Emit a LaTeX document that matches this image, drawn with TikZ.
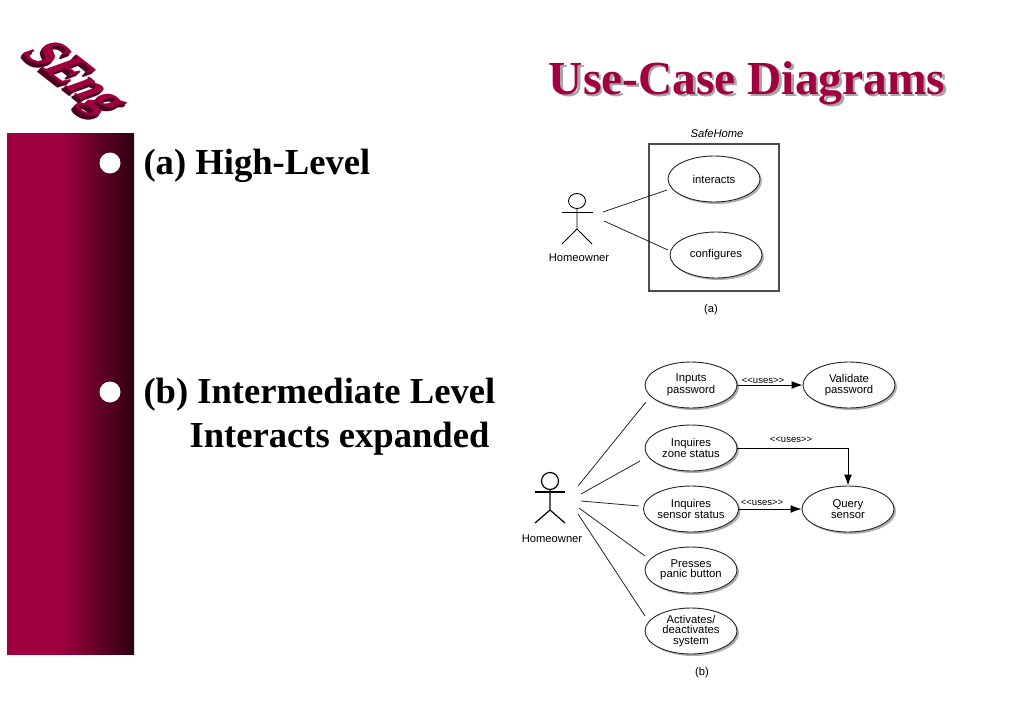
\documentclass[tikz,border=0pt]{standalone}
\usepackage{fontspec}
\usetikzlibrary{arrows.meta,shapes.geometric,shadows}
\setmainfont{Liberation Serif}
\newfontfamily\diagfont{Liberation Sans}
\definecolor{crimson}{HTML}{A00040}
\definecolor{darkcrimson}{HTML}{2C0010}
\tikzset{
  usecase/.style={draw,black!85,text=black,ellipse,line width=.9,fill=white,minimum width=92,minimum height=46,inner sep=0,align=center,
    font=\diagfont\fontsize{11.3}{10.5}\selectfont,
    drop shadow={shadow xshift=2,shadow yshift=2,fill=black!45,opacity=.7}},
  small/.style={font=\diagfont\fontsize{11.2}{11}\selectfont},
  stereo/.style={font=\diagfont\fontsize{9.5}{8}\selectfont},
  bodytext/.style={anchor=west,font=\bfseries\fontsize{36.6}{36}\selectfont},
  titletext/.style={font=\bfseries\fontsize{47.4}{48}\selectfont},
  logotext/.style={font=\bfseries\fontsize{50}{50}\selectfont,transform shape,inner sep=0},
  assoc/.style={black!85,line width=.8},
  stroke/.style={line width=.9},
  uses/.style={->,>={Latex[length=11,width=8]},line width=1}
}
\begin{document}
\begin{tikzpicture}[x=1pt,y=-1pt]
    \useasboundingbox (0,0) rectangle (1024,709);

    \node[inner sep=0,minimum width=53,minimum height=521,left color=crimson,right color=crimson] (bandleft) at (33.5,393.5) {};
    \node[inner sep=0,minimum width=74,minimum height=521,left color=crimson,middle color=crimson!80!darkcrimson,right color=darkcrimson] (bandright) at (97,393.5) {};
    \node[circle,fill=white,minimum size=21,inner sep=0] (bulleta) at (110,163) {};
    \node[circle,fill=white,minimum size=21,inner sep=0] (bulletb) at (110,392) {};

    \foreach \d in {5,4,3,2,1}
      \node[logotext,text=darkcrimson!70!crimson,cm={.7,-.55,1.1,.4,(0,0)}] (logo\d) at (73-\d*.7,79+\d*.8) {SEng};
    \node[logotext,text=crimson,cm={.7,-.55,1.1,.4,(0,0)}] (logo) at (73,79) {SEng};

    \node[titletext,text=black!35] (titleshadow) at (749.5,85) {Use-Case Diagrams};
    \node[titletext,text=crimson] (title) at (747,83) {Use-Case Diagrams};

    \node[bodytext] (texta) at (140,166) {(a) High-Level};
    \node[bodytext] (textb) at (140,395) {(b) Intermediate Level};
    \node[bodytext] (textc) at (186,439) {Interacts expanded};

    % part (a)
    \node[small] (systemlabel) at (717,133) {\itshape SafeHome};
    \node[draw,line width=1.1,black!70,minimum width=130,minimum height=147,inner sep=0] (system) at (714,217.5) {};
    \node[usecase] (interacts) at (714,179) {interacts};
    \node[usecase] (configures) at (716,255) {configures};
    \node[draw,stroke,ellipse,minimum width=17,minimum height=15,inner sep=0] (heada) at (577,201) {};
    \draw[stroke] (562,212) -- (593,212);
    \draw[stroke] (heada) -- (577,229) -- (562,244);
    \draw[stroke] (577,229) -- (592,244);
    \node[small] (ownera) at (579,258) {Homeowner};
    \coordinate (ownera1) at (603,212);
    \coordinate (ownera2) at (604,221);
    \coordinate (interactsend) at (667,190);
    \coordinate (configuresend) at (668,250);
    \draw[assoc] (ownera1) -- (interactsend);
    \draw[assoc] (ownera2) -- (configuresend);
    \node[small] (capa) at (711,310) {(a)};

    % part (b)
    \node[usecase] (inputs) at (691,385) {Inputs\\password};
    \node[usecase] (validate) at (849,385) {Validate\\password};
    \node[usecase] (zone) at (691,448) {Inquires\\zone status};
    \node[usecase] (sensor) at (691,509) {Inquires\\sensor status};
    \node[usecase] (query) at (848,509) {Query\\sensor};
    \node[usecase] (panic) at (691,570) {Presses\\panic button};
    \node[usecase] (activates) at (691,631) {Activates/\\deactivates\\system};
    \node[draw,line width=1.2,circle,minimum size=17,inner sep=0] (headb) at (550,481) {};
    \draw[line width=1.2] (535,492) -- (565,492);
    \draw[line width=1.2] (headb) -- (550,510) -- (535,523);
    \draw[line width=1.2] (550,510) -- (565,523);
    \node[small] (ownerb) at (552,539) {Homeowner};
    \coordinate (ownerb1) at (578,486);
    \coordinate (ownerb2) at (581,494);
    \coordinate (ownerb3) at (581,501);
    \coordinate (ownerb4) at (579,508);
    \coordinate (ownerb5) at (578,514);
    \coordinate (inputsend) at (646,402);
    \coordinate (zoneend) at (640,461);
    \coordinate (sensorend) at (639,506);
    \coordinate (panicend) at (645,556);
    \coordinate (activatesend) at (645,616);
    \draw[assoc] (ownerb1) -- (inputsend);
    \draw[assoc] (ownerb2) -- (zoneend);
    \draw[assoc] (ownerb3) -- (sensorend);
    \draw[assoc] (ownerb4) -- (panicend);
    \draw[assoc] (ownerb5) -- (activatesend);
    \draw[uses] (inputs.east) -- (validate.west);
    \node[stereo] (usesa) at (763,381) {<{}<uses>{}>};
    \draw[uses] (zone.east) -- (zone.east -| query) -- (query.north);
    \node[stereo] (usesb) at (791,440) {<{}<uses>{}>};
    \draw[uses] (sensor.east) -- (query.west);
    \node[stereo] (usesc) at (762,503) {<{}<uses>{}>};
    \node[small] (capb) at (702,673) {(b)};
  \end{tikzpicture}
\end{document}
